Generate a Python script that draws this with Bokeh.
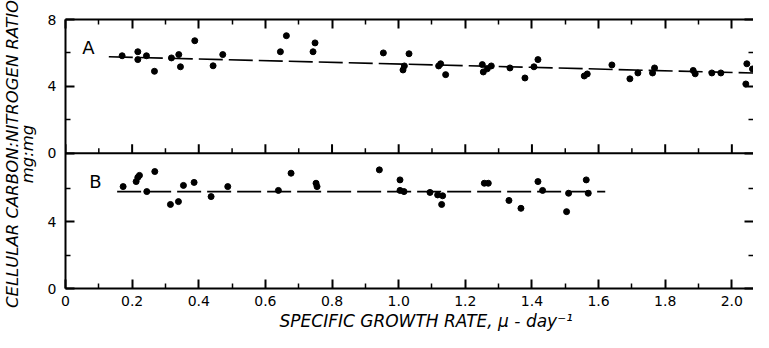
import math
from bokeh.plotting import figure
from bokeh.models import LinearAxis, FixedTicker, Label, Range1d, Span, Title
from bokeh.embed import file_html
from bokeh.resources import INLINE

# ---------------- data ----------------
a_x = [0.17, 0.217, 0.217, 0.243, 0.267, 0.318, 0.34, 0.345, 0.388, 0.443, 0.472,
       0.645, 0.663, 0.743, 0.749,
       0.954, 1.013, 1.017, 1.031,
       1.12, 1.126, 1.141,
       1.251, 1.254, 1.266, 1.278,
       1.334, 1.379, 1.406, 1.418,
       1.557, 1.566, 1.64,
       1.694, 1.718, 1.762, 1.768,
       1.884, 1.89, 1.94, 1.967,
       2.042, 2.045, 2.062]
a_y = [5.83, 6.07, 5.6, 5.83, 4.9, 5.7, 5.9, 5.17, 6.73, 5.23, 5.9,
       6.07, 7.03, 6.07, 6.6,
       6.0, 4.98, 5.22, 5.95,
       5.22, 5.35, 4.7,
       5.3, 4.86, 5.05, 5.22,
       5.1, 4.5, 5.17, 5.6,
       4.62, 4.74, 5.28,
       4.45, 4.8, 4.8, 5.1,
       4.95, 4.75, 4.8, 4.8,
       4.14, 5.35, 5.04]
a_fit_x = [0.13, 2.065]
a_fit_y = [5.77, 4.80]

b_x = [0.173, 0.212, 0.217, 0.222, 0.244, 0.268, 0.315, 0.339, 0.354, 0.386, 0.437, 0.487,
       0.639, 0.677, 0.752, 0.755,
       0.942, 1.004, 1.004, 1.016,
       1.094, 1.117, 1.132, 1.129,
       1.257, 1.269,
       1.331, 1.367, 1.418, 1.432,
       1.504, 1.51, 1.563, 1.569]
b_y = [6.1, 6.4, 6.65, 6.77, 5.8, 7.0, 5.03, 5.2, 6.17, 6.35, 5.5, 6.1,
       5.87, 6.9, 6.3, 6.1,
       7.1, 6.5, 5.87, 5.8,
       5.75, 5.6, 5.55, 5.03,
       6.3, 6.3,
       5.27, 4.8, 6.4, 5.87,
       4.6, 5.7, 6.5, 5.7]
b_fit_x = [0.155, 1.62]
b_fit_y = [5.8, 5.8]

x_ticks = [0, 0.2, 0.4, 0.6, 0.8, 1.0, 1.2, 1.4, 1.6, 1.8, 2.0]
x_tick_labels = ["0", "0.2", "0.4", "0.6", "0.8", "1.0", "1.2", "1.4", "1.6", "1.8", "2.0"]
x_minor = [0.1, 0.3, 0.5, 0.7, 0.9, 1.1, 1.3, 1.5, 1.7, 1.9]
a_yticks = [0, 4, 8]
a_ylabels = ["0", "4", "8"]
b_yticks = [0, 4]
b_ylabels = ["0", "4"]
y_minor = [2, 6]

x_title = "SPECIFIC GROWTH RATE, \u03bc - day\u207b\u00b9"
y_title = "CELLULAR CARBON:NITROGEN RATIO"
y_units = "mg:mg"

# ---------------- layout constants ----------------
FONT = "DejaVu Sans"
W, H = 753, 332
TOP, BOTTOM, LEFT = 19, 44, 58
X_END = 2.065
B_END = 16.1                 # panel B occupies 0..8 of the lower range
A_START, A_END = -8.1, 8.0   # panel A occupies 0..8 of the upper range
A_OFFSET = B_END - A_END     # A value + offset = position on the main range
FRAME_H = H - TOP - BOTTOM
PPU = FRAME_H / (A_END - A_START)

p = figure(width=W, height=H, x_range=Range1d(0, X_END), y_range=Range1d(0, B_END),
           toolbar_location=None, output_backend="svg",
           x_axis_type=None, y_axis_type=None,
           min_border_left=LEFT, min_border_right=0,
           min_border_top=TOP, min_border_bottom=BOTTOM)
p.extra_y_ranges = {"a": Range1d(A_START, A_END)}
p.outline_line_color = None
p.background_fill_color = "white"
p.border_fill_color = "white"


def style_axis(ax, labels):
    ax.axis_line_width = 2
    ax.axis_line_color = "black"
    ax.major_tick_line_width = 2
    ax.minor_tick_line_width = 1.5
    ax.major_tick_line_color = "black"
    ax.minor_tick_line_color = "black"
    ax.major_tick_out = 0
    ax.minor_tick_out = 0
    ax.major_tick_in = 9
    ax.minor_tick_in = 5
    ax.major_label_text_font = FONT
    ax.major_label_text_font_size = "14px"
    if labels:
        ax.major_label_text_color = "black"
        ax.major_label_standoff = 8
    else:
        ax.major_label_text_color = None
        ax.major_label_standoff = 0
    return ax


# x axes
xt = FixedTicker(ticks=x_ticks, minor_ticks=x_minor)
bottom = style_axis(LinearAxis(ticker=xt, major_label_overrides=dict(zip(x_ticks, x_tick_labels))), True)
bottom.major_label_standoff = 7
top = style_axis(LinearAxis(ticker=xt), False)
p.add_layout(bottom, "below")
p.add_layout(top, "above")

# y axes (panel B on the main range, panel A shifted onto it)
y_tick_pos = b_yticks + [t + A_OFFSET for t in a_yticks]
y_minor_pos = y_minor + [t + A_OFFSET for t in y_minor]
y_tick_text = b_ylabels + a_ylabels
yt = FixedTicker(ticks=y_tick_pos, minor_ticks=y_minor_pos)
left = style_axis(LinearAxis(ticker=yt, major_label_overrides=dict(zip(y_tick_pos, y_tick_text))), True)
left.major_label_standoff = 9
left.axis_label = y_title + "\n" + y_units
left.axis_label_standoff = 8
left.axis_label_text_font = FONT
left.axis_label_text_font_size = "16.5px"
left.axis_label_text_font_style = "italic"
left.axis_label_text_line_height = 0.75
left.axis_label_text_color = "black"
right = style_axis(LinearAxis(ticker=yt), False)
right.axis_line_color = None
p.add_layout(left, "left")
p.add_layout(right, "right")

# x title
p.add_layout(Title(text=x_title, align="left", offset=214, standoff=0,
                   text_font=FONT, text_font_size="17px", text_font_style="italic",
                   text_color="black"), "below")

# boundary between the panels, with its upward ticks
p.add_layout(Span(location=0, dimension="width", y_range_name="a",
                  line_color="black", line_width=2))
p.segment(x0=x_ticks, y0=[0] * len(x_ticks), x1=x_ticks, y1=[9 / PPU] * len(x_ticks),
          y_range_name="a", line_color="black", line_width=2)
p.segment(x0=x_minor, y0=[0] * len(x_minor), x1=x_minor, y1=[5 / PPU] * len(x_minor),
          y_range_name="a", line_color="black", line_width=1.5)

# panel A
p.line(a_fit_x, a_fit_y, y_range_name="a", line_color="black", line_width=1.6, line_dash="24 6")
p.scatter(a_x, a_y, y_range_name="a", size=6, color="black")
p.add_layout(Label(x=0.05, y=6.3, y_range_name="a", text="A", text_font=FONT,
                   text_font_size="18px", text_baseline="middle", text_align="left",
                   text_color="black"))

# panel B
p.line(b_fit_x, b_fit_y, line_color="black", line_width=1.6, line_dash="24 6")
p.scatter(b_x, b_y, size=6, color="black")
p.add_layout(Label(x=0.071, y=6.4, text="B", text_font=FONT, text_font_size="18px",
                   text_baseline="middle", text_align="left", text_color="black"))

open("out.html", "w").write(file_html(p, INLINE))
